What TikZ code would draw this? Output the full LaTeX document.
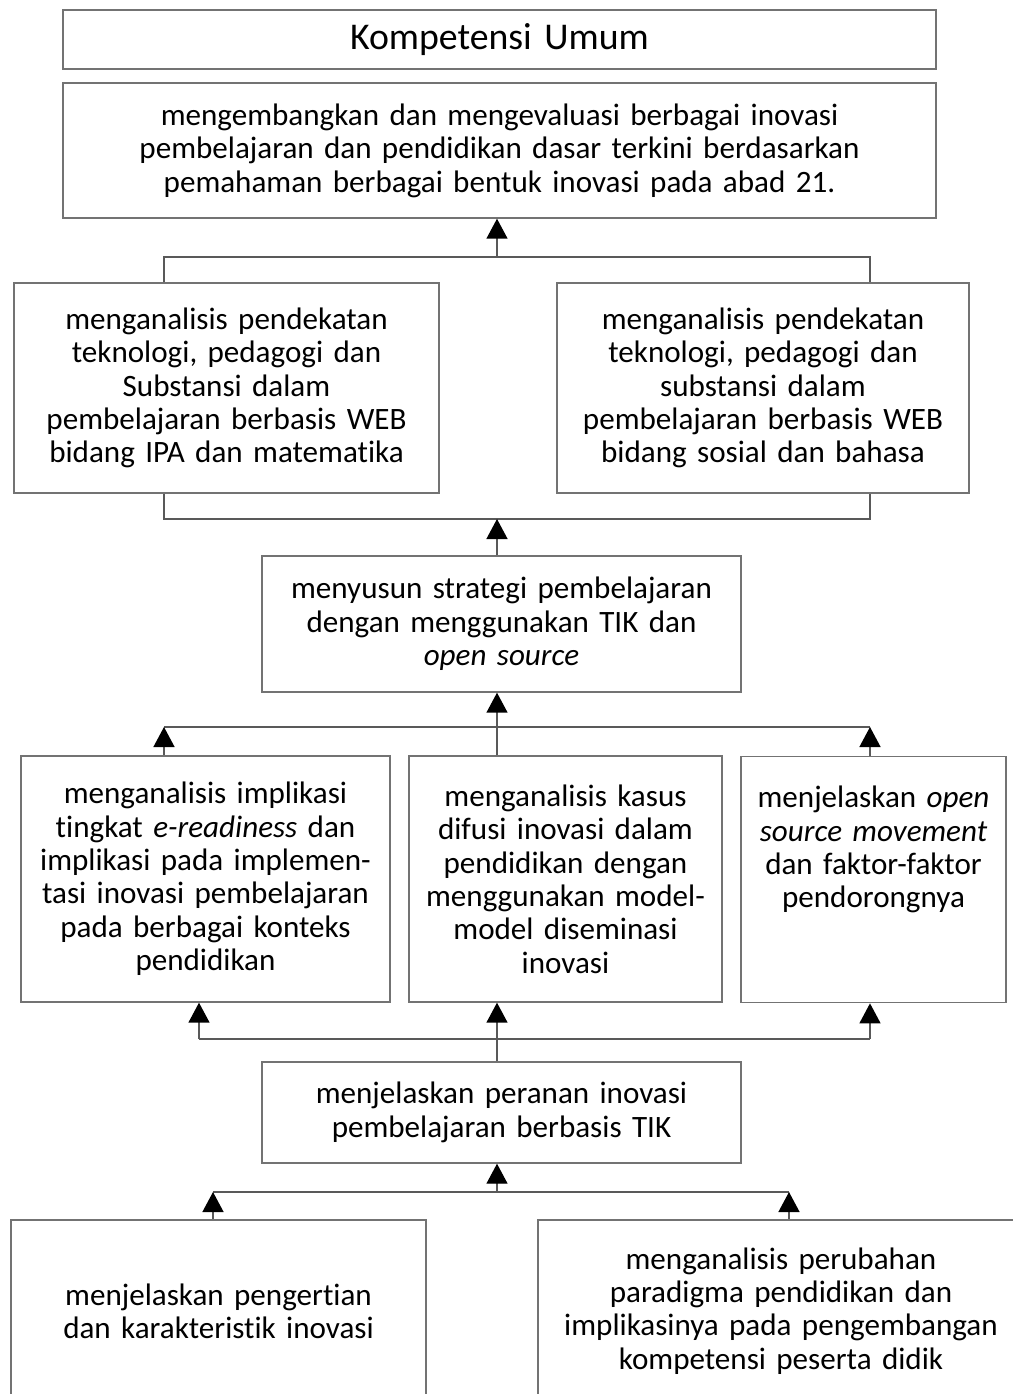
\documentclass[tikz,border=0pt]{standalone}
\usepackage{fontspec}
\setmainfont[Ligatures=NoCommon]{Carlito}
\usetikzlibrary{arrows.meta}

\tikzset{
	kotak/.style = {draw=black!55, line width=0.8pt, fill=white, align=center,
		inner xsep=0.1cm, inner ysep=0.1cm,
		font=\fontsize{17.7}{19}\selectfont},
	garis/.style = {draw=black!65, line width=0.8pt},
	panah/.style = {garis, -{Triangle[width=0.42cm,length=0.40cm,black]}}
}

\begin{document}
\begin{tikzpicture}[x=0.02cm, y=-0.02cm]
	% ukuran gambar sama dengan referensi
	\useasboundingbox (0,0) rectangle (1013,1394);
	
	% kotak-kotak kompetensi
	\node[kotak, text width=17.26cm, minimum height=1.18cm,
	font=\fontsize{21.5}{22}\selectfont] (umum) at (499.5,39.5) {Kompetensi Umum};
	\node[kotak, text width=17.26cm, minimum height=2.70cm] (tujuan) at (499.5,150.5)
	{mengembangkan dan mengevaluasi berbagai inovasi\\
		pembelajaran dan pendidikan dasar terkini berdasarkan\\
		pemahaman berbagai bentuk inovasi pada abad 21.};
	
	\node[kotak, text width=8.3cm, minimum height=4.2cm] (webipa) at (226.5,388)
	{menganalisis pendekatan\\ teknologi, pedagogi dan\\ Substansi dalam\\
		pembelajaran berbasis WEB\\ bidang IPA dan matematika};
	\node[kotak, text width=8.04cm, minimum height=4.2cm] (websos) at (763,388)
	{menganalisis pendekatan\\ teknologi, pedagogi dan\\ substansi dalam\\
		pembelajaran berbasis WEB\\ bidang sosial dan bahasa};
	
	\node[kotak, text width=9.38cm, minimum height=2.72cm] (strategi) at (501.5,624)
	{menyusun strategi pembelajaran\\ dengan menggunakan TIK dan\\ \textit{open source}};
	
	\node[kotak, text width=7.18cm, minimum height=4.92cm] (ereadi) at (205.5,879)
	{menganalisis implikasi\\ tingkat \textit{e-readiness} dan\\ implikasi pada implemen-\\
		tasi inovasi pembelajaran\\ pada berbagai konteks\\ pendidikan};
	\node[kotak, text width=6.06cm, minimum height=4.92cm] (difusi) at (565.5,879)
	{menganalisis kasus\\ difusi inovasi dalam\\ pendidikan dengan\\
		menggunakan model-\\ model diseminasi\\ inovasi};
	\node[kotak, text width=5.1cm, anchor=north, text height=0.92cm, text depth=3.8cm]
	(opensrc) at (873.5,756)
	{menjelaskan \textit{open}\\ \textit{source movement}\\ dan faktor-faktor\\ pendorongnya};
	
	\node[kotak, text width=9.38cm, minimum height=2.02cm] (peranan) at (501.5,1112.5)
	{menjelaskan peranan inovasi\\ pembelajaran berbasis TIK};
	
	\node[kotak, text width=8.1cm, minimum height=3.64cm] (pengertian) at (218.5,1311)
	{menjelaskan pengertian\\ dan karakteristik inovasi};
	\node[kotak, text width=9.52cm, minimum height=3.64cm] (paradigma) at (781,1311)
	{menganalisis perubahan\\ paradigma pendidikan dan\\
		implikasinya pada pengembangan\\ kompetensi peserta didik};
	
	% titik-titik cabang
	\coordinate (c1a) at (164,257);  \coordinate (c1b) at (870,257);  \coordinate (c1m) at (497,257);
	\coordinate (c2a) at (164,519);  \coordinate (c2b) at (870,519);  \coordinate (c2m) at (497,519);
	\coordinate (c3a) at (164,727);  \coordinate (c3b) at (870,727);
	\coordinate (c4a) at (199,1039); \coordinate (c4b) at (870,1039); \coordinate (c4m) at (497,1039);
	\coordinate (c5a) at (213,1192); \coordinate (c5b) at (789,1192); \coordinate (c5m) at (497,1192);
	
	% garis dan panah
	\draw[garis] (webipa.north -| c1a) -- (c1a) -- (c1b) -- (websos.north -| c1b);
	\draw[panah] (c1m) -- (tujuan.south -| c1m);
	
	\draw[garis] (webipa.south -| c2a) -- (c2a) -- (c2b) -- (websos.south -| c2b);
	\draw[panah] (strategi.north -| c2m) -- (c2m);
	
	\draw[garis] (c3a) -- (c3b);
	\draw[panah] (ereadi.north -| c3a) -- (c3a);
	\draw[panah] (opensrc.north -| c3b) -- (c3b);
	\draw[panah] (difusi.north -| c2m) -- (strategi.south -| c2m);
	
	\draw[garis] (c4a) -- (c4b);
	\draw[panah] (c4a) -- (ereadi.south -| c4a);
	\draw[panah] (c4b) -- (opensrc.south -| c4b);
	\draw[panah] (peranan.north -| c4m) -- (difusi.south -| c4m);
	
	\draw[garis] (c5a) -- (c5b);
	\draw[panah] (pengertian.north -| c5a) -- (c5a);
	\draw[panah] (paradigma.north -| c5b) -- (c5b);
	\draw[panah] (c5m) -- (peranan.south -| c5m);
	
\end{tikzpicture}
\end{document}
